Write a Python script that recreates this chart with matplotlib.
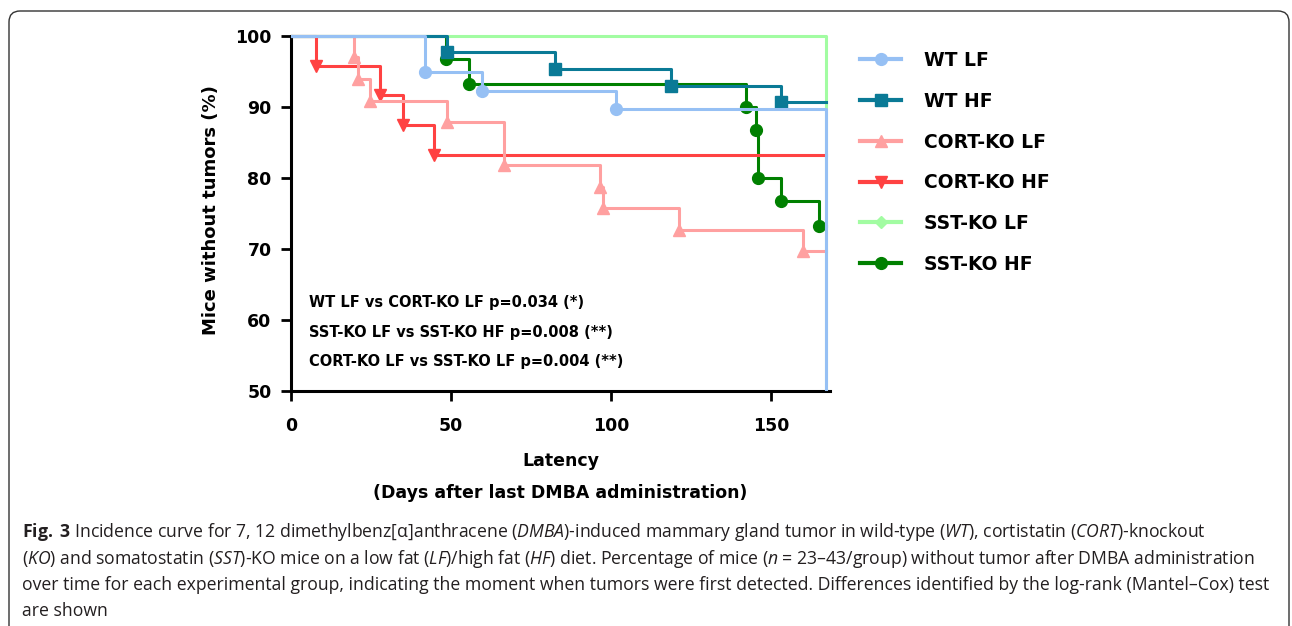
import matplotlib
matplotlib.use("Agg")
import matplotlib.pyplot as plt
from matplotlib.lines import Line2D
from matplotlib.patches import FancyBboxPatch
from matplotlib.transforms import IdentityTransform

plt.rcParams['font.family'] = ['DejaVu Sans']
plt.rcParams['mathtext.fontset'] = 'custom'
plt.rcParams['mathtext.rm'] = 'Open Sans'
plt.rcParams['mathtext.it'] = 'Open Sans:italic'
plt.rcParams['mathtext.bf'] = 'Open Sans:bold'

# Kaplan-Meier style data (days after last DMBA, % mice without tumors)
end_day = 167.2

wt_lf_days = [0, 41.9, 59.7, 101.6, 167.2]
wt_lf_pct = [100, 94.9, 92.3, 89.7, 0]

wt_hf_days = [0, 48.8, 82.6, 118.8, 153.2]
wt_hf_pct = [100, 97.7, 95.3, 93.0, 90.7]

cort_lf_days = [0, 19.8, 21.0, 24.8, 48.9, 66.7, 96.7, 97.4, 121.3, 160.2]
cort_lf_pct = [100, 97.0, 93.9, 90.9, 87.9, 81.8, 78.8, 75.8, 72.7, 69.7]

cort_hf_days = [0, 7.8, 27.8, 34.9, 44.6]
cort_hf_pct = [100, 95.8, 91.7, 87.5, 83.3]

sst_lf_days = [0, 167.2]
sst_lf_pct = [100, 0]

sst_hf_days = [0, 48.4, 55.7, 142.2, 145.3, 146.1, 153.3, 165.1]
sst_hf_pct = [100, 96.7, 93.3, 90.0, 86.7, 80.0, 76.7, 73.3]

labels = ["WT LF", "WT HF", "CORT-KO LF", "CORT-KO HF", "SST-KO LF", "SST-KO HF"]
colors = ["#96c0f4", "#0a7a96", "#ffa0a0", "#ff4242", "#a2fca2", "#008000"]
markers = ["o", "s", "^", "v", "D", "o"]
msizes = [8.5, 8, 9, 9, 6, 8.5]

stats_lines = [
    "WT LF vs CORT-KO LF p=0.034 (*)",
    "SST-KO LF vs SST-KO HF p=0.008 (**)",
    "CORT-KO LF vs SST-KO LF p=0.004 (**)",
]

caption = [
    r"$\mathbf{Fig.}$ $\mathbf{3}$ Incidence curve for 7, 12 dimethylbenz[α]anthracene ($\mathit{DMBA}$)-induced mammary gland tumor in wild-type ($\mathit{WT}$), cortistatin ($\mathit{CORT}$)-knockout",
    r"($\mathit{KO}$) and somatostatin ($\mathit{SST}$)-KO mice on a low fat ($\mathit{LF}$)/high fat ($\mathit{HF}$) diet. Percentage of mice ($\mathit{n}$ = 23–43/group) without tumor after DMBA administration",
    "over time for each experimental group, indicating the moment when tumors were first detected. Differences identified by the log-rank (Mantel–Cox) test",
    "are shown",
]

series = [
    (wt_lf_days, wt_lf_pct),
    (wt_hf_days, wt_hf_pct),
    (cort_lf_days, cort_lf_pct),
    (cort_hf_days, cort_hf_pct),
    (sst_lf_days, sst_lf_pct),
    (sst_hf_days, sst_hf_pct),
]

W, H = 1292, 626
fig = plt.figure(figsize=(W / 100, H / 100), dpi=100)
ax = fig.add_axes([291 / W, 1 - 391 / H, 539 / W, (391 - 28.9) / H])

for i, (days, pct) in enumerate(series):
    xs = list(days) + [end_day]
    ys = list(pct) + [pct[-1]]
    z = 10 - i
    ax.step(xs, ys, where="post", color=colors[i], lw=2.2, zorder=z)
    ax.plot(days[1:], pct[1:], ls="none", marker=markers[i], ms=msizes[i],
            color=colors[i], mec=colors[i], zorder=z)

ax.set_xlim(0, 168.5)
ax.set_ylim(50, 101)
ax.spines["left"].set_bounds(50, 100)
ax.spines["right"].set_visible(False)
ax.spines["top"].set_visible(False)
for s in ("left", "bottom"):
    ax.spines[s].set_linewidth(2.2)
ax.set_xticks([0, 50, 100, 150])
ax.set_yticks([50, 60, 70, 80, 90, 100])
ax.tick_params(width=2, length=7, labelsize=12.5)
ax.tick_params(axis="x", pad=12)
ax.tick_params(axis="y", pad=7)
for lab in ax.get_xticklabels() + ax.get_yticklabels():
    lab.set_fontweight("bold")

ax.set_xlabel("Latency\n(Days after last DMBA administration)", fontsize=12.5,
              fontweight="bold", linespacing=2.0, labelpad=12)
ax.set_ylabel("Mice without tumors (%)", fontsize=13, fontweight="bold", labelpad=11)

for k, s in enumerate(stats_lines):
    fig.text(309 / W, 1 - (302.7 + k * 29.5) / H, s, fontsize=10.5,
             fontweight="bold", va="center", ha="left")

handles = [Line2D([], [], color=colors[i], lw=3, marker=markers[i], ms=msizes[i])
           for i in range(len(labels))]
leg = fig.legend(handles, labels, loc="upper left", bbox_to_anchor=(860 / W, 1 - 51 / H),
                 frameon=False, prop={"weight": "bold", "size": 13.5},
                 handlelength=2.2, handletextpad=1.2, labelspacing=1.16, borderpad=0,
                 borderaxespad=0)

for k, line in enumerate(caption):
    fig.text(22 / W, 1 - (532 + k * 26.5) / H, line, fontsize=12.7, color="#231f20",
             family="Open Sans", va="center", ha="left")

box = FancyBboxPatch((9, -30), 1280, H - 11 + 30, boxstyle="round,pad=0,rounding_size=11",
                     fc="none", ec="#333333", lw=1.0, transform=IdentityTransform())
fig.add_artist(box)

fig.savefig("out.png", dpi=100)
